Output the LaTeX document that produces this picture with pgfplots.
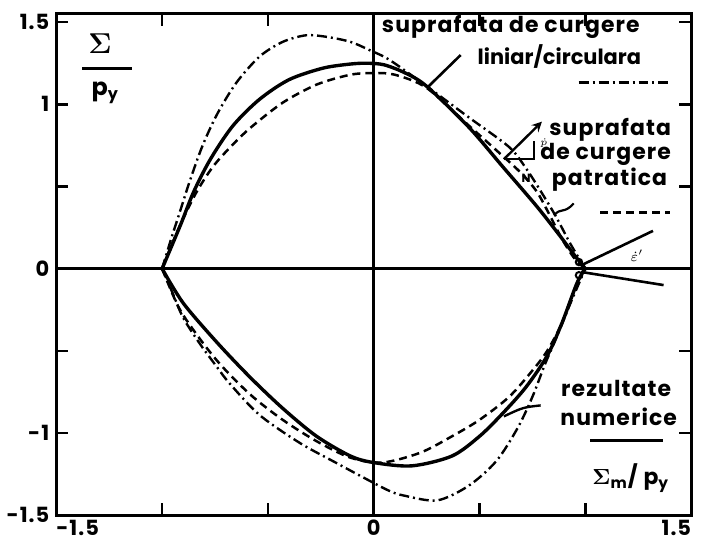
\documentclass[border=0pt]{standalone}
\usepackage{pgfplots}
\pgfplotsset{compat=1.18}
\usepackage[no-math]{fontspec}
\setmainfont{Poppins}[LetterSpace=5]
\newfontfamily\tightfont{Poppins}[LetterSpace=0]

% line styles of the three yield surfaces
\tikzset{
  numeric/.style={line width=1.7pt, black},
  linc/.style={line width=1.2pt, black, dash pattern=on 5pt off 2pt on 1pt off 2pt},
  quad/.style={line width=1.25pt, black, dash pattern=on 4pt off 2.5pt},
  lbl/.style={font=\bfseries\fontsize{11}{11}\selectfont, inner sep=1pt},
}

\begin{document}
\begin{tikzpicture}[font=\bfseries]
\begin{axis}[
  width=318.5pt, height=251.5pt, scale only axis,
  xmin=-1.5, xmax=1.5, ymin=-1.5, ymax=1.55,
  axis line style={line width=1.5pt},
  xtick={-1.5,-1,-0.5,0,0.5,1,1.5},
  xticklabels={\makebox[0pt][l]{-1.5},,,0,,,\makebox[0pt][r]{1.5}},
  ytick={-1.5,-1,-0.5,0,0.5,1,1.5},
  yticklabels={-1.5,-1,,0,,1,1.5},
  tick align=inside, major tick length=6pt,
  tick style={line width=1.2pt, black},
  xtick pos=both, ytick pos=both,
  xticklabel pos=lower, yticklabel pos=left,
  ticklabel style={font=\bfseries\fontsize{10.5}{10.5}\selectfont},
  xticklabel style={yshift=1pt},
  clip=false,
]
% picture extent
\path (rel axis cs:-0.0848,-0.0497) rectangle (rel axis cs:1.0235,1.0278);

% zero lines
\addplot[line width=1.5pt] coordinates {(-1.5,0) (1.5,0)};
\addplot[line width=1.5pt] coordinates {(0,-1.5) (0,1.55)};

% linear/circular yield surface (dash-dot)
\addplot[linc, smooth] coordinates {
 (-1,0) (-0.96,0.17) (-0.915,0.35) (-0.87,0.53) (-0.81,0.745) (-0.74,0.94)
 (-0.65,1.13) (-0.54,1.29) (-0.43,1.38) (-0.32,1.42) (-0.22,1.41) (-0.11,1.38)
 (-0.02,1.33) (0.075,1.27) (0.25,1.11) (0.45,0.92) (0.64,0.74) (0.72,0.61)
 (0.79,0.47) (0.86,0.32) (0.93,0.15) (1,0)};
\addplot[linc, smooth] coordinates {
 (-1,0) (-0.95,-0.15) (-0.90,-0.30) (-0.82,-0.46) (-0.74,-0.60) (-0.68,-0.70)
 (-0.54,-0.89) (-0.35,-1.06) (-0.18,-1.18) (-0.05,-1.27) (0.07,-1.35) (0.14,-1.38)
 (0.30,-1.41) (0.45,-1.32) (0.58,-1.17) (0.68,-0.97) (0.75,-0.78) (0.81,-0.58)
 (0.87,-0.40) (0.93,-0.21) (1,0)};

% quadratic yield surface (dashed)
\addplot[quad, smooth] coordinates {
 (-1,0) (-0.92,0.25) (-0.84,0.46) (-0.76,0.62) (-0.67,0.75) (-0.58,0.86)
 (-0.43,1.01) (-0.27,1.12) (-0.11,1.18) (0,1.19) (0.10,1.18) (0.25,1.10)
 (0.45,0.87) (0.58,0.72) (0.69,0.59) (0.77,0.47) (0.83,0.33) (0.89,0.18)
 (0.95,0.06) (1,0)};
\addplot[quad, smooth] coordinates {
 (-1,0) (-0.92,-0.24) (-0.82,-0.43) (-0.72,-0.59) (-0.58,-0.77) (-0.43,-0.92)
 (-0.27,-1.05) (-0.11,-1.15) (0.04,-1.18) (0.22,-1.12) (0.37,-1.02) (0.50,-0.92)
 (0.64,-0.78) (0.75,-0.62) (0.82,-0.50) (0.89,-0.33) (0.96,-0.09) (1,0)};

% numerical results (solid)
\addplot[numeric, smooth] coordinates {
 (-1,0) (-0.915,0.26) (-0.85,0.47) (-0.77,0.67) (-0.665,0.87) (-0.54,1.03)
 (-0.40,1.15) (-0.24,1.22) (-0.11,1.245) (-0.03,1.25) (0.05,1.24) (0.15,1.19)
 (0.25,1.11) (0.45,0.86) (0.61,0.62) (0.77,0.38) (0.88,0.20) (0.95,0.08) (1,0)};
\addplot[numeric, smooth] coordinates {
 (-1,0) (-0.90,-0.21) (-0.74,-0.45) (-0.585,-0.66) (-0.43,-0.85) (-0.27,-1.02)
 (-0.11,-1.14) (0,-1.18) (0.18,-1.20) (0.37,-1.14) (0.50,-1.02) (0.61,-0.88)
 (0.72,-0.72) (0.82,-0.53) (0.89,-0.33) (0.96,-0.09) (1,0)};

% plastic flow vectors at the corner
\addplot[only marks, mark=o, mark size=1.6pt, line width=1pt] coordinates {(0.97,0.04) (0.97,-0.04)};
\draw[line width=1.3pt] (axis cs:0.98,0.02) -- (axis cs:1.32,0.23);
\draw[line width=1.3pt] (axis cs:0.98,-0.02) -- (axis cs:1.37,-0.10);
\node at (rel axis cs:0.915,0.518) {$\scriptstyle\dot\varepsilon'$};

% normal vector sketch
\draw[line width=1pt] (rel axis cs:0.705,0.710) -- (rel axis cs:0.752,0.710) -- (rel axis cs:0.752,0.746);
\draw[line width=1.2pt, -stealth] (rel axis cs:0.705,0.710) -- (rel axis cs:0.765,0.785);
\node[inner sep=0pt] at (rel axis cs:0.768,0.742) {$\scriptscriptstyle\dot p$};
\node[font=\bfseries\fontsize{6}{6}\selectfont] at (rel axis cs:0.740,0.672) {N};

% axis titles
\node at (rel axis cs:0.069,0.940) {\fontsize{14}{14}\selectfont$\mathbf{\Sigma}$};
\draw[line width=1.4pt] (rel axis cs:0.041,0.891) -- (rel axis cs:0.119,0.891);
\node at (rel axis cs:0.077,0.843) {\fontsize{12}{12}\selectfont p\textsubscript{y}};
\node at (rel axis cs:0.905,0.074) {\fontsize{11}{11}\selectfont$\mathbf{\Sigma}$\textsubscript{m}/ p\textsubscript{y}};

% legend texts
\node[lbl] at (rel axis cs:0.716,0.974) {suprafata de curgere};
\node[anchor=east, inner sep=1pt] at (rel axis cs:0.925,0.915) {\tightfont\bfseries\fontsize{10.5}{10.5}\selectfont liniar/circulara};
\draw[linc] (rel axis cs:0.823,0.863) -- (rel axis cs:0.967,0.863);
\draw[line width=1.3pt] (rel axis cs:0.637,0.918) -- (rel axis cs:0.586,0.855);

\node[lbl, anchor=east] at (rel axis cs:0.972,0.769) {suprafata};
\node[lbl, anchor=east] at (rel axis cs:0.972,0.720) {de curgere};
\node[lbl, anchor=east] at (rel axis cs:0.966,0.670) {patratica};
\draw[quad] (rel axis cs:0.857,0.604) -- (rel axis cs:0.967,0.604);
\draw[line width=1.1pt] (rel axis cs:0.815,0.622) .. controls (rel axis cs:0.800,0.600) and (rel axis cs:0.795,0.615) .. (rel axis cs:0.784,0.598);

\node[lbl] at (rel axis cs:0.882,0.252) {rezultate};
\node[lbl] at (rel axis cs:0.886,0.197) {numerice};
\draw[line width=1.3pt] (rel axis cs:0.841,0.149) -- (rel axis cs:0.956,0.149);
\draw[line width=1.2pt] (rel axis cs:0.763,0.219) .. controls (rel axis cs:0.735,0.215) .. (rel axis cs:0.705,0.197);
\end{axis}
\end{tikzpicture}
\end{document}
